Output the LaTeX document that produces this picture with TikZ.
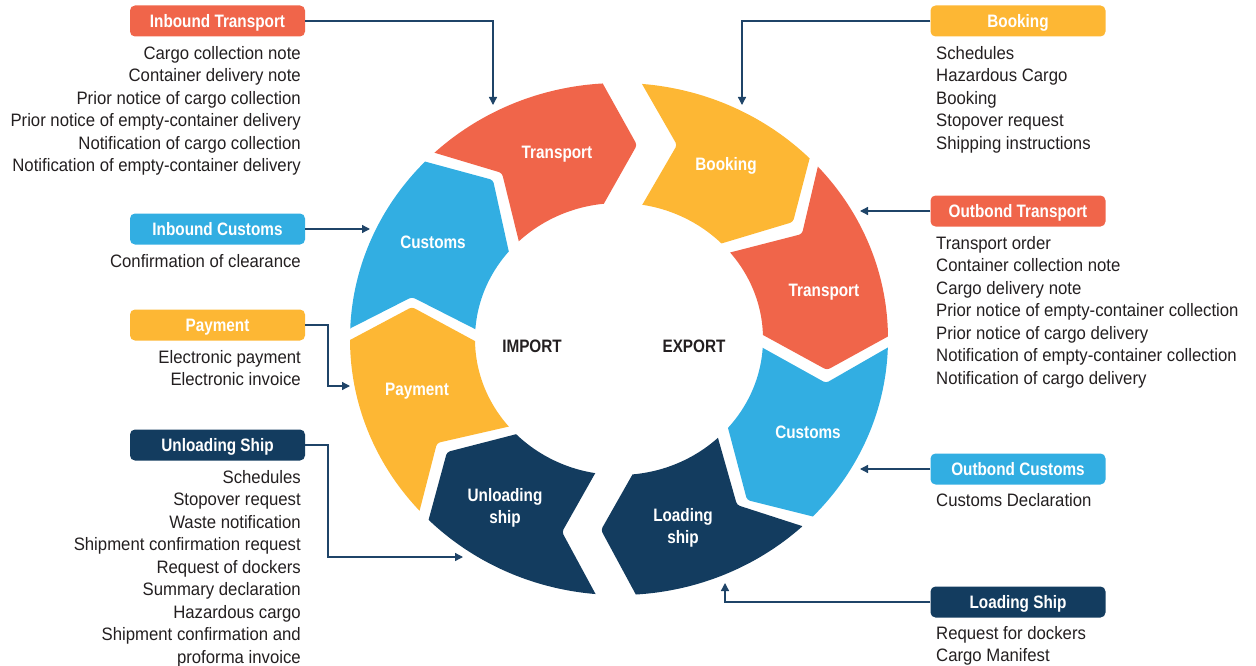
\documentclass[tikz,border=0pt]{standalone}
\usepackage{fontspec}
\setmainfont{Liberation Sans}[FakeStretch=0.93]
\newfontfamily\bdfam{Liberation Sans}[FakeStretch=0.85]
\usetikzlibrary{calc,arrows.meta}
\definecolor{cRed}{HTML}{F0654A}
\definecolor{cYel}{HTML}{FDB734}
\definecolor{cBlu}{HTML}{32AEE2}
\definecolor{cNav}{HTML}{133C5F}
\definecolor{cTxt}{HTML}{231F20}
\definecolor{cLine}{HTML}{1F4468}
\newcommand{\ringseg}[3]{%
  \begin{scope}
    \clip[rounded corners=3pt] ($(n#2a)!2.5!(n#2o)$) -- (n#2a) -- ($(n#2a)!2!(n#2i)$)
      -- ($(p#3a)!2!(p#3i)$) -- (p#3a) -- ($(p#3a)!2.5!(p#3o)$) -- cycle;
    \fill[#1, even odd rule] (619,339) ellipse [x radius=269, y radius=256]
      (619,339) ellipse [x radius=144, y radius=136];
  \end{scope}}
\begin{document}
\begin{tikzpicture}[x=1pt,y=-1pt,
  pill/.style={rounded corners=5pt, minimum width=175pt, minimum height=31pt, inner sep=0pt,
    text height=13pt, text depth=0pt,
    text=white, font=\bdfam\bfseries\fontsize{18}{21}\selectfont},
  lst/.style={inner sep=0pt, text=cTxt, font=\fontsize{18}{22.5}\selectfont},
  seglbl/.style={inner sep=0pt, text=white, align=center, font=\bdfam\bfseries\fontsize{18}{21.5}\selectfont},
  hub/.style={inner sep=0pt, text=cTxt, font=\bdfam\bfseries\fontsize{18}{21.5}\selectfont},
  conn/.style={draw=cLine, line width=1.3pt, -{Triangle[length=8pt,width=8pt]}}]
\useasboundingbox (0,0) rectangle (1256,666);
% boundary points: p = pointing side, n = notched side; o outer, a apex, i inner
\coordinate (p1o) at (603,84);  \coordinate (p1a) at (637,145); \coordinate (p1i) at (602,207);
\coordinate (n1o) at (642,84);  \coordinate (n1a) at (677,145); \coordinate (n1i) at (641,207);
\coordinate (p2o) at (810,157); \coordinate (p2a) at (793,222); \coordinate (p2i) at (723,243);
\coordinate (n2o) at (818,166); \coordinate (n2a) at (802,234); \coordinate (n2i) at (732,252);
\coordinate (p3o) at (887,337); \coordinate (p3a) at (827,370); \coordinate (p3i) at (763,335);
\coordinate (n3o) at (887,348); \coordinate (n3a) at (826,383); \coordinate (n3i) at (763,348);
\coordinate (p4o) at (815,517); \coordinate (p4a) at (747,500); \coordinate (p4i) at (728,428);
\coordinate (n4o) at (805,527); \coordinate (n4a) at (737,505); \coordinate (n4i) at (718,438);
\coordinate (p5o) at (635,593); \coordinate (p5a) at (601,530); \coordinate (p5i) at (635,470);
\coordinate (n5o) at (595,593); \coordinate (n5a) at (562,532); \coordinate (n5i) at (597,470);
\coordinate (p6o) at (428,522); \coordinate (p6a) at (447,452); \coordinate (p6i) at (513,435);
\coordinate (n6o) at (419,513); \coordinate (n6a) at (437,443); \coordinate (n6i) at (507,427);
\coordinate (p7o) at (350,340); \coordinate (p7a) at (412,307); \coordinate (p7i) at (473,340);
\coordinate (n7o) at (351,328); \coordinate (n7a) at (412,297); \coordinate (n7i) at (473,328);
\coordinate (p8o) at (423,161); \coordinate (p8a) at (493,180); \coordinate (p8i) at (508,248);
\coordinate (n8o) at (432,152); \coordinate (n8a) at (502,173); \coordinate (n8i) at (518,238);
% ring segments
\ringseg{cYel}{1}{2}
\ringseg{cRed}{2}{3}
\ringseg{cBlu}{3}{4}
\ringseg{cNav}{4}{5}
\ringseg{cNav}{5}{6}
\ringseg{cYel}{6}{7}
\ringseg{cBlu}{7}{8}
\ringseg{cRed}{8}{1}
% segment labels
\node[seglbl] (sTL) at (557,154) {Transport};
\node[seglbl] (sBk) at (726,166) {Booking};
\node[seglbl] (sTR) at (824,292) {Transport};
\node[seglbl] (sCL) at (433,242) {Customs};
\node[seglbl] (sCR) at (808,432) {Customs};
\node[seglbl] (sPy) at (417,391) {Payment};
\node[seglbl] (sUS) at (505,508) {Unloading\\ship};
\node[seglbl] (sLS) at (683,528) {Loading\\ship};
\node[hub] (imp) at (532,346) {IMPORT};
\node[hub] (exp) at (694,346) {EXPORT};
% left pills
\node[pill, fill=cRed] (pIT) at (217.5,21) {Inbound Transport};
\node[pill, fill=cBlu] (pIC) at (217.5,229) {Inbound Customs};
\node[pill, fill=cYel] (pPy) at (217.5,325) {Payment};
\node[pill, fill=cNav] (pUS) at (217.5,445) {Unloading Ship};
% right pills
\node[pill, fill=cYel] (pBk) at (1018,21) {Booking};
\node[pill, fill=cRed] (pOT) at (1018,211) {Outbond Transport};
\node[pill, fill=cBlu] (pOC) at (1018,469) {Outbond Customs};
\node[pill, fill=cNav] (pLS) at (1018,602) {Loading Ship};
% lists
\node[lst, anchor=north east, align=right] (lIT) at (301,46) {Cargo collection note\\Container delivery note\\Prior notice of cargo collection\\Prior notice of empty-container delivery\\Notification of cargo collection\\Notification of empty-container delivery};
\node[lst, anchor=north east, align=right] (lIC) at (301,254) {Confirmation of clearance};
\node[lst, anchor=north east, align=right] (lPy) at (301,350) {Electronic payment\\Electronic invoice};
\node[lst, anchor=north east, align=right] (lUS) at (301,470) {Schedules\\Stopover request\\Waste notification\\Shipment confirmation request\\Request of dockers\\Summary declaration\\Hazardous cargo\\Shipment confirmation and\\proforma invoice};
\node[lst, anchor=north west, align=left] (lBk) at (936,46) {Schedules\\Hazardous Cargo\\Booking\\Stopover request\\Shipping instructions};
\node[lst, anchor=north west, align=left] (lOT) at (936,236) {Transport order\\Container collection note\\Cargo delivery note\\Prior notice of empty-container collection\\Prior notice of cargo delivery\\Notification of empty-container collection\\Notification of cargo delivery};
\node[lst, anchor=north west, align=left] (lOC) at (936,493) {Customs Declaration};
\node[lst, anchor=north west, align=left] (lLS) at (936,626) {Request for dockers\\Cargo Manifest};
% connector targets
\coordinate (aIT) at (493,105);
\coordinate (aIC) at (370,229);
\coordinate (cPy) at (328,325);
\coordinate (aPy) at (350,386);
\coordinate (cUS) at (328,445);
\coordinate (aUS) at (463,557);
\coordinate (aBk) at (742,105);
\coordinate (aOT) at (860,211);
\coordinate (aOC) at (860,469);
\coordinate (aLS) at (725,583);
% connectors
\draw[conn] (pIT.east) -| (aIT);
\draw[conn] (pIC.east) -- (aIC);
\draw[conn] (pPy.east) -- (cPy) |- (aPy);
\draw[conn] (pUS.east) -- (cUS) |- (aUS);
\draw[conn] (pBk.west) -| (aBk);
\draw[conn] (pOT.west) -- (aOT);
\draw[conn] (pOC.west) -- (aOC);
\draw[conn] (pLS.west) -| (aLS);
\end{tikzpicture}
\end{document}
